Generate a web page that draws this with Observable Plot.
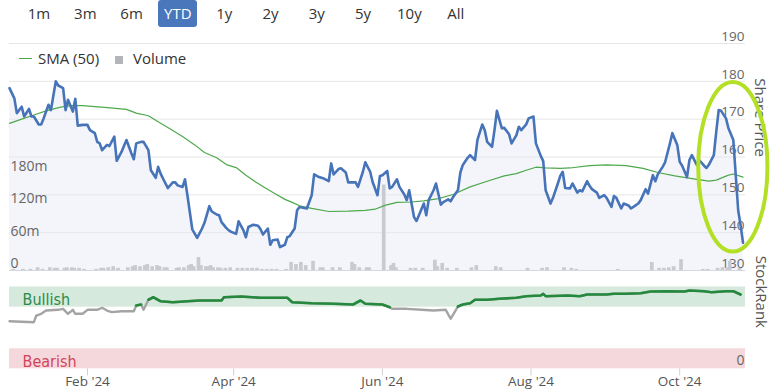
<!DOCTYPE html>
<html><head><meta charset="utf-8">
<script src="https://cdn.jsdelivr.net/npm/d3@7"></script>
<script src="https://cdn.jsdelivr.net/npm/@observablehq/plot@0.6"></script>
<style>
body{margin:0;background:#fff;font-family:"Open Sans",sans-serif;}
#chart{position:relative;width:771px;height:391px;overflow:hidden;}
#chart svg{position:absolute;left:0;top:0;}
.btns{position:absolute;left:19.5px;top:0;display:flex;gap:7.3px;}
.btn{width:39px;height:27px;line-height:27px;text-align:center;font-size:15px;color:#333;border-radius:3px;}
.btn.on{background:#4a77bb;color:#fff;}
.legend{position:absolute;top:48px;left:0;height:20px;font-size:15px;color:#333;line-height:20px;}
.legend span{position:absolute;white-space:nowrap;}
</style>
</head><body>
<div id="chart"></div>
<script>
// ---------------- data ----------------
const rangeButtons = ["1m","3m","6m","YTD","1y","2y","3y","5y","10y","All"];
const activeButton = "YTD";
const legendItems = ["SMA (50)", "Volume"];

// day number: days since 2023-12-31 (0 = Dec 31 2023)
const priceDay = [0,2,3,5,6,8,9,10,12,13,14,16,17,19,20,22,23,24,26,27,28,30,32,33,35,36,37,38,40,41,43,44,46,47,48,50,51,52,54,55,57,58,60,61,62,64,65,67,68,69,71,72,73,75,77,79,80,82,83,85,86,87,89,90,91,93,94,96,97,98,100,102,103,104,106,107,108,110,111,113,114,115,117,118,119,121,122,124,125,127,129,131,132,133,135,136,138,139,141,142,143,145,146,148,149,151,152,153,155,156,157,159,160,162,163,164,166,167,168,170,171,172,174,175,177,178,180,181,182,184,185,186,188,189,191,192,194,195,196,198,199,200,202,203,205,206,208,209,210,212,213,215,216,218,219,220,222,223,225,226,227,228,230,231,233,234,235,237,238,239,241,242,244,245,247,248,249,251,252,254,255,256,258,259,261,262,264,265,266,268,269,271,272,274,275,276,278,279,280,282,283,285,286,287,289,290,291,292,294,295,297,298,299,300,301];
const priceClose = [178.2,175.5,171.6,173.3,170.7,172.7,170.7,170.7,168.6,168.6,170.2,173.8,172.4,180.0,178.9,178.2,172.4,175.1,172.0,175.4,168.3,168.5,168.5,167.1,166.3,164.0,163.6,161.8,163.2,162.9,165.4,159.0,161.4,163.0,164.5,161.0,159.4,163.6,164.0,164.0,161.8,156.5,154.5,157.4,155.6,153.0,151.8,153.3,153.3,152.5,152.1,154.1,149.9,140.9,138.6,141.1,142.6,147.0,145.6,144.8,144.6,142.8,141.2,140.6,140.2,139.7,143.0,140.6,138.8,141.5,142.1,141.8,140.9,139.5,141.1,136.8,138.0,138.2,136.2,136.8,138.8,139.1,141.1,145.9,146.8,146.5,146.4,149.9,155.4,154.7,154.3,153.6,158.3,155.4,156.8,157.0,155.9,153.3,153.3,153.3,152.1,156.1,158.6,156.1,153.4,149.9,155.0,155.2,156.3,151.7,152.1,154.1,152.1,150.1,148.6,151.2,144.1,143.1,144.6,147.7,144.6,148.6,151.2,153.0,147.4,148.1,148.8,148.3,149.4,151.2,155.9,157.9,159.8,160.5,159.2,164.5,168.6,167.1,164.0,162.7,167.1,172.2,167.6,167.7,166.0,163.6,165.8,168.0,167.1,168.6,170.2,170.7,163.6,160.3,158.9,151.2,147.7,149.2,153.0,155.0,156.1,151.8,151.7,153.0,150.6,151.2,150.9,153.6,152.4,151.5,150.6,149.2,149.9,149.2,146.8,149.7,149.2,146.4,147.7,147.2,146.4,146.8,147.7,148.6,151.5,150.3,155.2,153.6,155.4,157.4,158.6,163.6,166.3,163.2,158.7,157.7,154.7,159.2,160.5,157.9,159.2,157.7,157.1,158.0,160.5,166.7,172.4,172.2,170.2,167.6,164.5,155.2,145.9,141.9,137.3];

const smaDay = [0,5,10,15,21,25,30,39,48,52,57,61,66,71,76,80,85,89,93,97,101,105,109,113,116,119,124,131,139,146,150,154,159,165,170,176,182,189,196,203,208,212,216,220,226,230,238,245,253,260,266,273,282,287,290,295,297,301];
const smaValue = [168.9,170.0,171.1,172.2,173.2,173.6,173.6,173.1,172.6,171.6,170.9,169.3,167.4,165.4,163.2,161.2,159.8,158.0,157.2,155.2,153.4,151.8,150.3,148.8,148.0,147.1,146.4,145.6,145.7,145.9,146.2,147.2,148.0,148.1,148.4,149.0,150.1,152.1,153.6,155.0,155.6,156.5,157.3,157.1,157.0,157.1,157.7,157.9,157.7,157.0,155.9,155.0,154.1,153.6,153.9,155.2,155.5,154.7];

const volumeDay = [1,5,8,11,13,16,18,19,22,23,25,26,28,30,35,37,38,40,42,44,48,50,51,53,55,56,58,60,61,63,64,68,69,71,73,74,75,77,78,80,81,82,83,85,86,88,90,93,95,97,99,101,103,105,107,109,113,115,117,119,121,124,127,128,132,135,140,141,143,146,147,153,156,157,158,164,166,169,174,175,177,179,183,189,191,199,201,212,218,220,227,230,232,249,263,266,268,270,272,275,284,286,290,292,294,295,299];
const volumeM = [2,2,2,5,2,5,4,4,4,5,5,4,4,2,2,4,4,5,7,4,5,7,9,7,9,11,7,9,7,5,5,4,5,5,9,11,7,24,9,7,7,9,5,5,4,4,5,4,4,4,4,4,2,2,2,2,2,15,11,15,9,17,5,5,5,5,15,11,5,5,5,158,9,13,5,4,4,4,19,7,13,4,4,5,9,7,5,4,4,5,5,4,2,2,15,4,4,5,7,20,2,2,4,5,5,17,4];

const rankDay = [0,10,11,13,15,20,22,24,26,27,30,32,36,38,40,42,46,51,52,54,55,57,59,62,67,73,78,87,88,95,103,114,116,124,133,141,144,146,153,156,157,163,169,174,179,181,183,184,186,189,191,196,201,208,212,218,219,220,229,234,237,245,248,253,259,263,270,277,279,285,288,294,297,300];
const rankValue = [58.3,57.1,65.3,67.4,71.4,72.3,73.5,67.4,72.3,67.4,67.4,72.3,72.3,74.8,71.4,69.4,70.6,70.6,77.6,78.8,72.3,84.6,87.7,82.8,81.6,82.8,83.7,83.7,87.7,88.6,87.0,87.0,81.6,80.4,79.7,78.8,83.7,79.7,78.8,75.5,73.5,73.5,72.3,71.4,72.3,61.3,71.4,76.3,78.8,80.4,84.6,84.6,85.8,87.0,89.0,89.8,91.9,89.0,89.8,89.0,91.0,91.0,91.9,91.9,92.6,94.7,95.1,94.7,96.0,95.1,93.9,95.1,95.1,91.0];

const priceTicks = [130,140,150,160,170,180,190];
const volumeTicks = [0,60,120,180];
const rankBands = [
  {label:"Bullish", lo:75.5, hi:100, fill:"#d5eadc", text:"#2a8a4a"},
  {label:"Bearish", lo:0, hi:24.5, fill:"#f5d8db", text:"#d2445a"}
];
const rankThreshold = 75.5;
const xTickDates = ["2024-02-01","2024-04-01","2024-06-01","2024-08-01","2024-10-01"];
const xDomainDays = [0, 302];
// highlighted region annotation (center day, center price, half-width days, half-height price)
const highlight = {day:297, price:157.3, rxDays:14.2, ryPrice:22.4};

// ---------------- build ----------------
const base = Date.UTC(2023, 11, 31);
const toDate = d => new Date(base + d * 864e5);
const price = priceDay.map((d,i) => ({date: toDate(d), close: priceClose[i]}));
const sma = smaDay.map((d,i) => ({date: toDate(d), v: smaValue[i]}));
const vol = volumeDay.map((d,i) => ({d0: toDate(d), d1: toDate(d + 1.5), v: volumeM[i]}));
const rank = rankDay.map((d,i) => ({date: toDate(d), r: rankValue[i]}));

const chart = document.getElementById("chart");
const btns = document.createElement("div"); btns.className = "btns";
rangeButtons.forEach(b => { const e = document.createElement("div"); e.className = "btn" + (b===activeButton?" on":""); e.textContent = b; btns.appendChild(e); });
chart.appendChild(btns);

const W = 771, H = 391;
const common = {width: W, height: H, marginLeft: 9, marginRight: 26,
  x: {type: "utc", domain: xDomainDays.map(toDate), axis: null},
  style: {background: "transparent", fontFamily: "Open Sans, sans-serif", overflow: "visible"}};
const topPanel = {...common, marginTop: 43, marginBottom: 121};

// 1: gridlines, area fill, right axis labels
const p1 = Plot.plot({...topPanel,
  y: {domain: [130, 190], axis: null},
  marks: [
    Plot.areaY(price, {x: "date", y1: () => priceTicks[0], y2: "close", fill: "#f3f5fb"}),
    Plot.ruleY(priceTicks.slice(1), {stroke: "#e6e6e6", strokeWidth: 1}),
    Plot.ruleY([priceTicks[0]], {stroke: "#d4d8e0", strokeWidth: 1}),
    Plot.text(priceTicks, {y: d => d, text: d => String(d), frameAnchor: "right", textAnchor: "end", dx: -1, dy: -7, fontSize: 13.5, fill: "#666"}),
    Plot.text(["Share Price"], {frameAnchor: "right", dx: 14, rotate: 90, fontSize: 15, fill: "#555"})
  ]});
chart.appendChild(p1);

// 2: volume bars + left labels
const p2 = Plot.plot({...topPanel,
  y: {domain: [0, 420], axis: null},
  marks: [
    Plot.rectY(vol, {x1: "d0", x2: "d1", y: "v", fill: "#c9cacf"}),
    Plot.text(volumeTicks, {y: d => d, text: d => d === 0 ? "0" : d + "m", frameAnchor: "left", textAnchor: "start", dx: 1, dy: -7, fontSize: 14, fill: "#666"})
  ]});
chart.appendChild(p2);

// 3: price and SMA lines
const p3 = Plot.plot({...topPanel,
  y: {domain: [130, 190], axis: null},
  marks: [
    Plot.line(sma, {x: "date", y: "v", stroke: "#4ea94b", strokeWidth: 1.2}),
    Plot.line(price, {x: "date", y: "close", stroke: "#4774b9", strokeWidth: 2.6, strokeLinejoin: "round"})
  ]});
chart.appendChild(p3);
{
  const sx = p3.scale("x"), sy = p3.scale("y");
  const cx = sx.apply(toDate(highlight.day)), cy = sy.apply(highlight.price);
  const rx = sx.apply(toDate(highlight.day + highlight.rxDays)) - cx;
  const ry = cy - sy.apply(highlight.price + highlight.ryPrice);
  d3.select(p3).append("ellipse").attr("cx", cx).attr("cy", cy).attr("rx", rx).attr("ry", ry)
    .attr("fill", "none").attr("stroke", "#b3df24").attr("stroke-width", 4);
}

// 4: StockRank panel
const p4 = Plot.plot({...common, marginTop: 286.7, marginBottom: 22.7,
  y: {domain: [0, 100], axis: null},
  marks: [
    Plot.ruleY([100], {stroke: "#e6e6e6"}),
    Plot.rect(rankBands, {y1: "lo", y2: "hi", fill: d => d.fill}),
    Plot.text(rankBands, {y: d => (d.lo + d.hi) / 2, text: "label", fill: d => d.text, frameAnchor: "left", textAnchor: "start", dx: 13, dy: 3, fontSize: 16, fontFamily: "DejaVu Sans Condensed, DejaVu Sans, sans-serif", fontStretch: "condensed"}),
    Plot.text([0], {y: d => d, text: d => String(d), frameAnchor: "right", textAnchor: "end", dx: -1, dy: -8, fontSize: 14, fill: "#666"}),
    Plot.text(["StockRank"], {frameAnchor: "right", dx: 15, rotate: 90, fontSize: 15, fill: "#555"}),
    Plot.line(rank, {x: "date", y: "r", stroke: "#a4a4a4", strokeWidth: 2.4}),
    Plot.line(rank, {x: "date", y: d => d.r >= rankThreshold ? d.r : NaN, stroke: "#24893d", strokeWidth: 2.6}),
    Plot.axisX({ticks: xTickDates.map(s => new Date(s)), tickFormat: d3.utcFormat("%b '%y"), tickSize: 7, tickPadding: 1, stroke: "#d0d0d0", fill: "#555", fontSize: 13.5})
  ]});
chart.appendChild(p4);

// legend
const lg = document.createElement("div"); lg.className = "legend";
lg.innerHTML = `<span style="left:19px;top:9.5px;width:13px;height:1.5px;background:#4ea94b"></span>
<span style="left:38px;top:0">${legendItems[0]}</span>
<span style="left:115px;top:8px;width:8px;height:8px;background:#b4b5ba"></span>
<span style="left:133px;top:0">${legendItems[1]}</span>`;
chart.appendChild(lg);
</script>
</body></html>
